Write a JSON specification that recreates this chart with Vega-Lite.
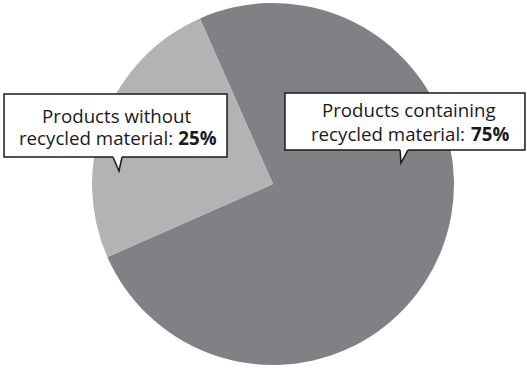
{
  "$schema": "https://vega.github.io/schema/vega-lite/v6.json",
  "width": 508,
  "height": 368,
  "padding": {"left": 19, "top": 0, "right": 0, "bottom": 0},
  "autosize": {"type": "none"},
  "background": "white",
  "config": {"view": {"stroke": null}},
  "datasets": {
    "shares": [
      {"category": "Products containing recycled material", "value": 75},
      {"category": "Products without recycled material", "value": 25}
    ],
    "boxes": [
      {"box": "without", "x1": -148.6, "x2": -25.4, "y1": 49.7, "y2": 14.9},
      {"box": "containing", "x1": 6.6, "x2": 139.2, "y1": 50.3, "y2": 18.8}
    ],
    "pointers": [
      {"box": "without", "x": -88.4, "top": 15.8, "bottom": 14.9},
      {"box": "without", "x": -85.1, "top": 15.8, "bottom": 7.2},
      {"box": "without", "x": -83.4, "top": 15.8, "bottom": 14.9},
      {"box": "containing", "x": 70.2, "top": 19.7, "bottom": 18.8},
      {"box": "containing", "x": 70.7, "top": 19.7, "bottom": 11.6},
      {"box": "containing", "x": 74.6, "top": 19.7, "bottom": 18.8}
    ],
    "labels": [
      {"text": "Products without", "x": -86.4, "y": 33.9, "part": "head"},
      {"text": "recycled material:", "x": -55.2, "y": 21.5, "part": "lead"},
      {"text": "25%", "x": -52.3, "y": 21.5, "part": "value"},
      {"text": "Products containing", "x": 75.0, "y": 37.2, "part": "head"},
      {"text": "recycled material:", "x": 106.1, "y": 23.7, "part": "lead"},
      {"text": "75%", "x": 109.4, "y": 23.7, "part": "value"}
    ]
  },
  "layer": [
    {
      "data": {"name": "shares"},
      "mark": {"type": "arc", "outerRadius": 181},
      "encoding": {
        "theta": {
          "field": "value",
          "type": "quantitative",
          "stack": true,
          "scale": {"range": [-0.4154, 5.8678]}
        },
        "color": {
          "field": "category",
          "type": "nominal",
          "scale": {
            "domain": ["Products containing recycled material", "Products without recycled material"],
            "range": ["#808184", "#b1b3b5"]
          },
          "legend": null
        }
      }
    },
    {
      "data": {"name": "boxes"},
      "mark": {"type": "rect", "fill": "white", "stroke": "#1a1a1a", "strokeWidth": 1.5},
      "encoding": {
        "x": {"field": "x1", "type": "quantitative", "scale": {"domain": [-140.33, 140.33], "nice": false, "zero": false}, "axis": null},
        "x2": {"field": "x2"},
        "y": {"field": "y1", "type": "quantitative", "scale": {"domain": [-101.66, 101.66], "nice": false, "zero": false}, "axis": null},
        "y2": {"field": "y2"}
      }
    },
    {
      "data": {"name": "pointers"},
      "mark": {"type": "area", "fill": "white", "orient": "vertical"},
      "encoding": {
        "x": {"field": "x", "type": "quantitative"},
        "y": {"field": "top", "type": "quantitative", "stack": null},
        "y2": {"field": "bottom"},
        "detail": {"field": "box"}
      }
    },
    {
      "data": {"name": "pointers"},
      "mark": {"type": "line", "stroke": "#1a1a1a", "strokeWidth": 1.5},
      "encoding": {
        "x": {"field": "x", "type": "quantitative"},
        "y": {"field": "bottom", "type": "quantitative", "stack": null},
        "detail": {"field": "box"}
      }
    },
    {
      "data": {"name": "labels"},
      "transform": [{"filter": "datum.part === 'head'"}],
      "mark": {"type": "text", "font": "Open Sans", "fontSize": 18.7, "baseline": "alphabetic", "align": "center", "color": "#1a1a1a"},
      "encoding": {
        "x": {"field": "x", "type": "quantitative"},
        "y": {"field": "y", "type": "quantitative"},
        "text": {"field": "text"}
      }
    },
    {
      "data": {"name": "labels"},
      "transform": [{"filter": "datum.part === 'lead'"}],
      "mark": {"type": "text", "font": "Open Sans", "fontSize": 18.7, "baseline": "alphabetic", "align": "right", "color": "#1a1a1a"},
      "encoding": {
        "x": {"field": "x", "type": "quantitative"},
        "y": {"field": "y", "type": "quantitative"},
        "text": {"field": "text"}
      }
    },
    {
      "data": {"name": "labels"},
      "transform": [{"filter": "datum.part === 'value'"}],
      "mark": {"type": "text", "font": "Open Sans", "fontSize": 18.7, "fontWeight": "bold", "baseline": "alphabetic", "align": "left", "color": "#1a1a1a"},
      "encoding": {
        "x": {"field": "x", "type": "quantitative"},
        "y": {"field": "y", "type": "quantitative"},
        "text": {"field": "text"}
      }
    }
  ]
}
